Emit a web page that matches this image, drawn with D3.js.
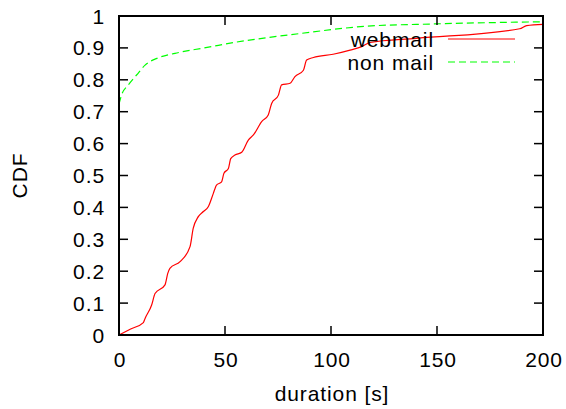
<!DOCTYPE html>
<html>
<head>
<meta charset="utf-8">
<script src="https://cdn.jsdelivr.net/npm/d3@7"></script>
<style>
  body { margin: 0; background: #fff; }
  text { font-family: "Liberation Sans", Arial, sans-serif; letter-spacing: 0.9px; }
</style>
</head>
<body>
<div id="chart"></div>
<script>
// webmail session durations (s) and CDF
var webDur = [0, 5.5, 11.5, 12.3, 15.4, 17, 21.7, 23, 24, 28.8, 33.5, 35, 37.4, 39.8, 42.1, 44.5, 46, 48.4, 49.5, 51.6, 52.7, 54.7, 57.9, 61, 63.4, 67.3, 70.4, 72, 75.2, 76.7, 80.7, 83, 87, 88.5, 91.7, 101, 109, 114.5, 118.4, 140.4, 189, 192.3, 200]
var webCdf = [0, 0.019, 0.039, 0.052, 0.094, 0.13, 0.157, 0.193, 0.209, 0.23, 0.277, 0.334, 0.371, 0.387, 0.402, 0.444, 0.47, 0.48, 0.507, 0.522, 0.553, 0.564, 0.573, 0.611, 0.627, 0.669, 0.69, 0.726, 0.752, 0.784, 0.789, 0.81, 0.83, 0.862, 0.87, 0.88, 0.893, 0.904, 0.917, 0.93, 0.96, 0.97, 0.974]

// non mail
var nonDur = [0, 1.2, 4.4, 8.3, 12.3, 18.5, 26.4, 35.8, 43.7, 50, 85.4, 116.8, 148, 200]
var nonCdf = [0.724, 0.752, 0.784, 0.815, 0.846, 0.869, 0.883, 0.895, 0.904, 0.912, 0.945, 0.968, 0.975, 0.982]

var xTicks = [0, 50, 100, 150, 200]
var yTicks = [0, 0.1, 0.2, 0.3, 0.4, 0.5, 0.6, 0.7, 0.8, 0.9, 1]
var seriesNames = ["webmail", "non mail"]
var seriesColors = ["#ff0000", "#00ff00"]

window.onload = function () {
    draw();
}

function draw() {
    var W = 566, H = 409
    var pl = 119, pr = 543, pt = 16, pb = 335
    var fs = 21

    var svg = d3.select("#chart").append("svg")
        .attr("width", W)
        .attr("height", H)

    svg.append("rect").attr("width", W).attr("height", H).attr("fill", "#fff")

    var x = d3.scaleLinear().domain([0, 200]).range([pl, pr])
    var y = d3.scaleLinear().domain([0, 1]).range([pb, pt])

    // curves
    var line = d3.line()
        .x(function (d) { return x(d[0]) })
        .y(function (d) { return y(d[1]) })
        .curve(d3.curveMonotoneX)

    var webData = webDur.map(function (d, i) { return [d, webCdf[i]] })
    var nonData = nonDur.map(function (d, i) { return [d, nonCdf[i]] })

    svg.append("path")
        .attr("d", line(webData))
        .attr("fill", "none")
        .attr("stroke", seriesColors[0])
        .attr("stroke-width", 1.2)

    svg.append("path")
        .attr("d", line(nonData))
        .attr("fill", "none")
        .attr("stroke", seriesColors[1])
        .attr("stroke-width", 1.2)
        .attr("stroke-dasharray", "7,4")

    // ticks, inward on all four sides
    var tl = 9
    var g = svg.append("g").attr("stroke", "#000").attr("stroke-width", 1.5)
    xTicks.forEach(function (t) {
        g.append("line").attr("x1", x(t)).attr("x2", x(t)).attr("y1", pb).attr("y2", pb - tl)
        g.append("line").attr("x1", x(t)).attr("x2", x(t)).attr("y1", pt).attr("y2", pt + tl)
    })
    yTicks.forEach(function (t) {
        g.append("line").attr("x1", pl).attr("x2", pl + tl).attr("y1", y(t)).attr("y2", y(t))
        g.append("line").attr("x1", pr).attr("x2", pr - tl).attr("y1", y(t)).attr("y2", y(t))
    })

    // frame
    svg.append("rect")
        .attr("x", pl).attr("y", pt)
        .attr("width", pr - pl).attr("height", pb - pt)
        .attr("fill", "none")
        .attr("stroke", "#000")
        .attr("stroke-width", 2)

    // tick labels
    svg.selectAll(".xl").data(xTicks).enter().append("text")
        .attr("x", function (d) { return x(d) + 1 })
        .attr("y", pb + 31.5)
        .attr("text-anchor", "middle")
        .style("font-size", fs + "px")
        .text(function (d) { return d })

    svg.selectAll(".yl").data(yTicks).enter().append("text")
        .attr("x", pl - 14)
        .attr("y", function (d) { return y(d) + 7.5 })
        .attr("text-anchor", "end")
        .style("font-size", fs + "px")
        .text(function (d) { return d })

    // axis titles
    svg.append("text")
        .attr("x", (pl + pr) / 2 + 1)
        .attr("y", 401)
        .attr("text-anchor", "middle")
        .style("font-size", fs + "px")
        .text("duration [s]")

    svg.append("text")
        .attr("transform", "translate(27," + ((pt + pb) / 2) + ") rotate(-90)")
        .attr("text-anchor", "middle")
        .style("font-size", fs + "px")
        .text("CDF")

    // legend
    seriesNames.forEach(function (name, i) {
        var ly = 39 + i * 23
        svg.append("text")
            .attr("x", 434)
            .attr("y", ly + 7.5)
            .attr("text-anchor", "end")
            .style("font-size", fs + "px")
            .text(name)
        svg.append("line")
            .attr("x1", 448).attr("x2", 515)
            .attr("y1", ly).attr("y2", ly)
            .attr("stroke", seriesColors[i])
            .attr("stroke-width", 1.2)
            .attr("stroke-dasharray", i == 1 ? "7,4" : null)
    })
}
</script>
</body>
</html>
